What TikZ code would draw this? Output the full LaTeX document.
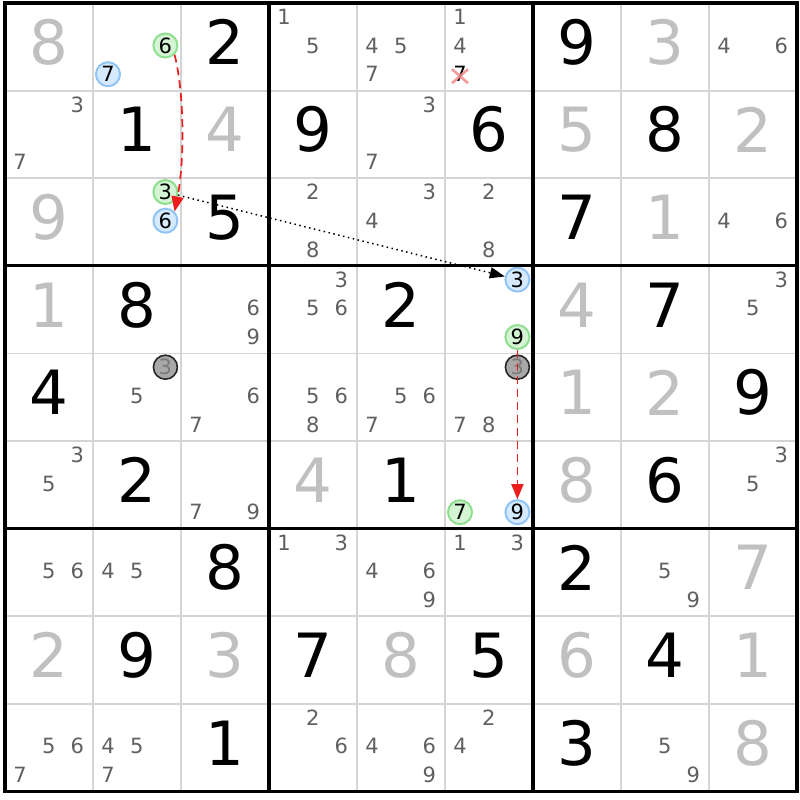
\documentclass[tikz,border=0pt]{standalone}
\usepackage{fontspec}
\setmainfont{DejaVu Sans}
\usetikzlibrary{arrows.meta}
\definecolor{givgray}{HTML}{C0C0C0}
\definecolor{candgray}{HTML}{606060}
\definecolor{gridgray}{HTML}{D4D4D4}
\definecolor{gfill}{HTML}{D4F4D4}
\definecolor{gdraw}{HTML}{90DE90}
\definecolor{bfill}{HTML}{D6EAFF}
\definecolor{bdraw}{HTML}{90C4F4}
\definecolor{xred}{HTML}{F08A8A}
\definecolor{arrred}{HTML}{EE1C1C}
\definecolor{xfill}{HTML}{A8A8A8}
\definecolor{xtext}{HTML}{7A7A7A}

\newcommand\Giv[4]{%
  \pgfmathsetmacro\myGx{5+(#2-1)*88+44}%
  \pgfmathsetmacro\myGy{3+(#1-1)*87.6+39}%
  \node[#4] (g#1#2) at (\myGx,\myGy) {#3};}
\newcommand\Cand[4]{%
  \pgfmathsetmacro\myCx{5+(#2-1)*88+15+28.7*mod(#3-1,3)}%
  \pgfmathsetmacro\myCy{3+(#1-1)*87.6+13.8+28.7*floor((#3-1)/3)}%
  \node[#4] (k#1#2#3) at (\myCx,\myCy) {#3};}
\newcommand\Cands[3]{\foreach \myk in {#3}{\Cand{#1}{#2}{\myk}{cand}}}

\tikzset{
  cand/.style={font=\fontsize{21}{21}\selectfont, text=candgray, inner sep=0pt},
  big/.style={font=\fontsize{61}{61}\selectfont, inner sep=0pt},
  bg/.style={big, text=black},
  gg/.style={big, text=givgray},
  circ/.style={cand, text=black, circle, minimum size=24pt, line width=2pt},
  gcirc/.style={circ, draw=gdraw, fill=gfill},
  bcirc/.style={circ, draw=bdraw, fill=bfill},
  xcirc/.style={circ, text=xtext, draw=black!85, fill=xfill, line width=1.6pt},
  thin grid/.style={gridgray, line width=1.8pt},
  thick grid/.style={black, line width=3.2pt},
  redarr/.style={arrred, line width=1.7pt, dash pattern=on 8pt off 5pt, -{Triangle[length=15pt,width=12pt]}},
  dotarr/.style={black, line width=1.5pt, dash pattern=on 1.5pt off 3.5pt, -{Triangle[length=15pt,width=11pt]}},
}

\begin{document}
\begin{tikzpicture}[x=1pt, y=-1pt]
\useasboundingbox (0,0) rectangle (800,800);
\fill[white] (0,0) rectangle (800,800);
% thin grid
\foreach \i in {1,2,4,5,7,8}{
  \draw[thin grid] ({5+\i*88},3) -- ({5+\i*88},791.4);
  \draw[thin grid] (5,{3+\i*87.6}) -- (797,{3+\i*87.6});
}
% row 1
\Giv{1}{1}{8}{gg}
\Cand{1}{2}{6}{gcirc}
\Cand{1}{2}{7}{bcirc}
\Giv{1}{3}{2}{bg}
\Cands{1}{4}{1,5}
\Cands{1}{5}{4,5,7}
\Cands{1}{6}{1,4}
\Cand{1}{6}{7}{cand, text=black}
\draw[xred, line width=2.6pt, opacity=0.85] (k167) +(-8,-5) -- +(8,9) (k167) +(-8,9) -- +(8,-5);
\Giv{1}{7}{9}{bg}
\Giv{1}{8}{3}{gg}
\Cands{1}{9}{4,6}
% row 2
\Cands{2}{1}{3,7}
\Giv{2}{2}{1}{bg}
\Giv{2}{3}{4}{gg}
\Giv{2}{4}{9}{bg}
\Cands{2}{5}{3,7}
\Giv{2}{6}{6}{bg}
\Giv{2}{7}{5}{gg}
\Giv{2}{8}{8}{bg}
\Giv{2}{9}{2}{gg}
% row 3
\Giv{3}{1}{9}{gg}
\Cand{3}{2}{3}{gcirc}
\Cand{3}{2}{6}{bcirc}
\Giv{3}{3}{5}{bg}
\Cands{3}{4}{2,8}
\Cands{3}{5}{3,4}
\Cands{3}{6}{2,8}
\Giv{3}{7}{7}{bg}
\Giv{3}{8}{1}{gg}
\Cands{3}{9}{4,6}
% row 4
\Giv{4}{1}{1}{gg}
\Giv{4}{2}{8}{bg}
\Cands{4}{3}{6,9}
\Cands{4}{4}{3,5,6}
\Giv{4}{5}{2}{bg}
\Cand{4}{6}{3}{bcirc}
\Cand{4}{6}{9}{gcirc}
\Giv{4}{7}{4}{gg}
\Giv{4}{8}{7}{bg}
\Cands{4}{9}{3,5}
% row 5
\Giv{5}{1}{4}{bg}
\Cand{5}{2}{3}{xcirc}
\Cands{5}{2}{5}
\Cands{5}{3}{6,7}
\Cands{5}{4}{5,6,8}
\Cands{5}{5}{5,6,7}
\Cand{5}{6}{3}{xcirc}
\Cands{5}{6}{7,8}
\Giv{5}{7}{1}{gg}
\Giv{5}{8}{2}{gg}
\Giv{5}{9}{9}{bg}
% row 6
\Cands{6}{1}{3,5}
\Giv{6}{2}{2}{bg}
\Cands{6}{3}{7,9}
\Giv{6}{4}{4}{gg}
\Giv{6}{5}{1}{bg}
\Cand{6}{6}{7}{gcirc}
\Cand{6}{6}{9}{bcirc}
\Giv{6}{7}{8}{gg}
\Giv{6}{8}{6}{bg}
\Cands{6}{9}{3,5}
% row 7
\Cands{7}{1}{5,6}
\Cands{7}{2}{4,5}
\Giv{7}{3}{8}{bg}
\Cands{7}{4}{1,3}
\Cands{7}{5}{4,6,9}
\Cands{7}{6}{1,3}
\Giv{7}{7}{2}{bg}
\Cands{7}{8}{5,9}
\Giv{7}{9}{7}{gg}
% row 8
\Giv{8}{1}{2}{gg}
\Giv{8}{2}{9}{bg}
\Giv{8}{3}{3}{gg}
\Giv{8}{4}{7}{bg}
\Giv{8}{5}{8}{gg}
\Giv{8}{6}{5}{bg}
\Giv{8}{7}{6}{gg}
\Giv{8}{8}{4}{bg}
\Giv{8}{9}{1}{gg}
% row 9
\Cands{9}{1}{5,6,7}
\Cands{9}{2}{4,5,7}
\Giv{9}{3}{1}{bg}
\Cands{9}{4}{2,6}
\Cands{9}{5}{4,6,9}
\Cands{9}{6}{2,4}
\Giv{9}{7}{3}{bg}
\Cands{9}{8}{5,9}
\Giv{9}{9}{8}{gg}
% thick grid
\foreach \i in {0,3,6,9}{
  \draw[thick grid] ({5+\i*88},1.4) -- ({5+\i*88},793);
  \draw[thick grid] (3.4,{3+\i*87.6}) -- (798.6,{3+\i*87.6});
}
% chain arrows
\draw[redarr] (k126.south east) .. controls +(10,40) and +(10,-50) .. (k326.north east);
\draw[dotarr] (k323) -- (k463);
\draw[redarr] (k469) -- (k669);
\end{tikzpicture}
\end{document}
